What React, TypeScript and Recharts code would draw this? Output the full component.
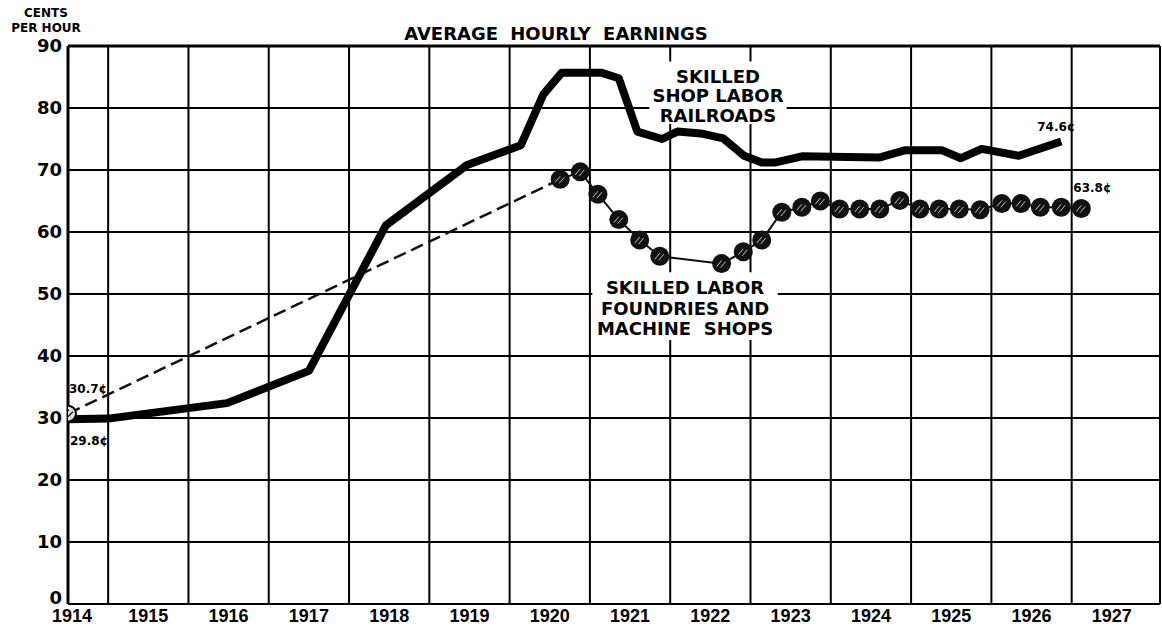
import React from 'react'
import { LineChart, Line, XAxis, YAxis, CartesianGrid, ReferenceArea, ReferenceLine, LabelList } from 'recharts'

// skilled shop labor, railroads (cents per hour)
const railroadYears = [
  1914.5, 1915.0, 1916.48, 1917.5, 1918.46, 1919.47, 1920.14, 1920.42, 1920.65, 1921.14,
  1921.36, 1921.59, 1921.9, 1922.09, 1922.38, 1922.66, 1922.92, 1923.14, 1923.3, 1923.64,
  1924.6, 1924.93, 1925.38, 1925.62, 1925.88, 1926.34, 1926.87,
]
const railroadCents = [
  29.8, 29.9, 32.4, 37.6, 61.1, 70.8, 74.0, 82.2, 85.7, 85.7,
  84.8, 76.2, 75.0, 76.2, 75.9, 75.1, 72.3, 71.2, 71.2, 72.2,
  72.0, 73.2, 73.2, 71.9, 73.4, 72.3, 74.6,
]

// skilled labor, foundries and machine shops
const foundryYears = [
  1920.63, 1920.88, 1921.1, 1921.36, 1921.62, 1921.87, 1922.64, 1922.91, 1923.14, 1923.39,
  1923.64, 1923.87, 1924.11, 1924.36, 1924.61, 1924.86, 1925.11, 1925.35, 1925.6, 1925.86,
  1926.13, 1926.37, 1926.61, 1926.87, 1927.12,
]
const foundryCents = [
  68.5, 69.7, 66.1, 62.0, 58.7, 56.1, 54.9, 56.8, 58.7, 63.2,
  64.0, 65.0, 63.7, 63.7, 63.7, 65.1, 63.7, 63.7, 63.7, 63.6,
  64.6, 64.6, 64.0, 64.0, 63.8,
]
const foundry1914 = { year: 1914.5, cents: 30.7 }

const gridYears = [1915, 1916, 1917, 1918, 1919, 1920, 1921, 1922, 1923, 1924, 1925, 1926, 1927]
const labelYears = [1914, 1915, 1916, 1917, 1918, 1919, 1920, 1921, 1922, 1923, 1924, 1925, 1926, 1927]
const labelTicks = labelYears.map((y) => (y === 1914 ? 1914.55 : y + 0.5))
const yTicks = [0, 10, 20, 30, 40, 50, 60, 70, 80, 90]
const xMin = 1914.5
const xMax = 1928.1

const railroadNote = ['SKILLED', 'SHOP LABOR', 'RAILROADS']
const foundryNote = ['SKILLED LABOR', 'FOUNDRIES AND', 'MACHINE  SHOPS']

const railroad = railroadYears.map((year, i) => ({ year, cents: railroadCents[i] }))
const foundry = foundryYears.map((year, i) => ({ year, cents: foundryCents[i] }))
const foundryBridge = [foundry1914, foundry[0]]

const heavy = '"DejaVu Sans", sans-serif'
const narrow = '"Liberation Sans", Arial, sans-serif'

const NoteLabel = (props: any) => {
  const { viewBox, lines, top, lead } = props
  if (!viewBox) return null
  const cx = viewBox.x + viewBox.width / 2
  return (
    <text x={cx} y={viewBox.y + top} textAnchor="middle" fontFamily={heavy} fontWeight={700} fontSize={18} fill="#000">
      {lines.map((l: string, i: number) => (
        <tspan key={i} x={cx} dy={i === 0 ? 0 : lead} style={{ whiteSpace: 'pre' }}>{l}</tspan>
      ))}
    </text>
  )
}

const HatchedDot = (props: any) => {
  const { cx, cy, index } = props
  return (
    <g key={`f-${index}`}>
      <circle cx={cx} cy={cy} r={9.5} fill="#111" />
      <path
        d={`M${cx - 5} ${cy + 3} L${cx} ${cy - 3} M${cx - 1} ${cy + 4} L${cx + 4} ${cy - 2}`}
        stroke="#fff"
        strokeWidth={1}
        opacity={0.75}
      />
    </g>
  )
}

const StartDot = (props: any) => {
  const { cx, cy, index } = props
  if (index !== 0) return <g key={`s-${index}`} />
  return (
    <g key={`s-${index}`}>
      <circle cx={cx} cy={cy} r={8} fill="#ddd" stroke="#000" strokeWidth={2} />
      <path d={`M${cx - 5} ${cy + 2} L${cx + 1} ${cy - 4} M${cx - 2} ${cy + 5} L${cx + 5} ${cy - 2}`} stroke="#000" strokeWidth={1.2} />
    </g>
  )
}

const smallText = (x: number, y: number, text: string, anchor: string = 'start') => (
  <text x={x} y={y} textAnchor={anchor as any} fontFamily={heavy} fontWeight={700} fontSize={12} fill="#000">
    {text}
  </text>
)

const railroadEnds = (p: any) => {
  const last = railroad.length - 1
  if (p.index === 0) return <g key="r0">{smallText(p.x + 2, p.y + 26, `${p.value}¢`)}</g>
  if (p.index === last) return <g key="rl">{smallText(p.x - 5, p.y - 10, `${p.value}¢`, 'middle')}</g>
  return null
}

const foundryEnd = (p: any) => {
  if (p.index === foundry.length - 1) return <g key="fl">{smallText(p.x - 8, p.y - 16, `${p.value}¢`)}</g>
  return null
}

const bridgeStart = (p: any) => {
  if (p.index === 0) return <g key="b0">{smallText(p.x + 1, p.y - 21, `${p.value}¢`)}</g>
  return null
}

const YTick = (props: any) => {
  const { x, y, payload } = props
  return (
    <text x={x + 2} y={y} dy={payload.value === 0 ? '0.0em' : '0.36em'} textAnchor="end" fontFamily={heavy} fontWeight={700} fontSize={18} fill="#000">
      {payload.value}
    </text>
  )
}

const XLabelTick = (props: any) => {
  const { x, y, payload } = props
  return (
    <text x={x} y={y + 18} textAnchor="middle" fontFamily={narrow} fontWeight={700} fontSize={18} fill="#000">
      {Math.floor(payload.value)}
    </text>
  )
}

const EmptyTick = () => <g />

// grid lines at year boundaries, placed through the x axis scale
const verticalGrid = (props: any) => {
  const s = props?.xAxis?.scale
  if (s && typeof s.map === 'function') return gridYears.map((y) => s.map(y))
  if (typeof s === 'function') return gridYears.map((y) => s(y))
  return []
}

export default function App() {
  return (
    <div style={{ position: 'absolute', left: 0, top: 0, width: 1162, height: 629, background: '#fff' }}>
      <LineChart width={1162} height={629} margin={{ top: 46, right: 2, bottom: 0, left: 0 }}>
        <CartesianGrid stroke="#000" strokeWidth={2} verticalCoordinatesGenerator={verticalGrid} />
        <XAxis
          dataKey="year"
          type="number"
          domain={[xMin, xMax]}
          ticks={gridYears}
          interval={0}
          allowDataOverflow
          height={0}
          tick={<EmptyTick />}
          tickLine={false}
          axisLine={{ stroke: '#000', strokeWidth: 3 }}
        />
        <XAxis
          xAxisId="labels"
          dataKey="year"
          type="number"
          domain={[xMin, xMax]}
          ticks={labelTicks}
          interval={0}
          allowDataOverflow
          height={25}
          tickSize={0}
          tickMargin={0}
          axisLine={false}
          tickLine={false}
          tick={<XLabelTick />}
        />
        <YAxis
          type="number"
          domain={[0, 90]}
          ticks={yTicks}
          interval={0}
          width={68}
          tickLine={false}
          axisLine={{ stroke: '#000', strokeWidth: 3 }}
          tick={<YTick />}
        />
        <ReferenceLine y={90} stroke="#000" strokeWidth={3} />
        <ReferenceLine x={xMax} stroke="#000" strokeWidth={2} />
        <ReferenceArea
          x1={1921.74}
          x2={1923.45}
          y1={77.4}
          y2={87.5}
          fill="#fff"
          fillOpacity={1}
          stroke="none"
          label={<NoteLabel lines={railroadNote} top={21} lead={19.5} />}
        />
        <ReferenceArea
          x1={1921.03}
          x2={1923.34}
          y1={42.6}
          y2={53.5}
          fill="#fff"
          fillOpacity={1}
          stroke="none"
          label={<NoteLabel lines={foundryNote} top={22} lead={20.5} />}
        />
        <Line
          data={foundryBridge}
          dataKey="cents"
          type="linear"
          stroke="#111"
          strokeWidth={2.5}
          strokeDasharray="13 6"
          dot={StartDot}
          activeDot={false}
          isAnimationActive={false}
        >
          <LabelList dataKey="cents" content={bridgeStart} />
        </Line>
        <Line
          data={foundry}
          dataKey="cents"
          type="linear"
          stroke="#111"
          strokeWidth={2}
          dot={HatchedDot}
          activeDot={false}
          isAnimationActive={false}
        >
          <LabelList dataKey="cents" content={foundryEnd} />
        </Line>
        <Line
          data={railroad}
          dataKey="cents"
          type="linear"
          stroke="#000"
          strokeWidth={8}
          strokeLinejoin="round"
          dot={false}
          activeDot={false}
          isAnimationActive={false}
        >
          <LabelList dataKey="cents" content={railroadEnds} />
        </Line>
      </LineChart>
      <svg width={1162} height={629} style={{ position: 'absolute', left: 0, top: 0, pointerEvents: 'none' }}>
        <text x={46} y={17} textAnchor="middle" fontFamily={heavy} fontWeight={700} fontSize={12}>CENTS</text>
        <text x={46} y={32} textAnchor="middle" fontFamily={heavy} fontWeight={700} fontSize={12}>PER HOUR</text>
        <text x={556} y={40} textAnchor="middle" fontFamily={heavy} fontWeight={700} fontSize={18} wordSpacing={6}>
          AVERAGE HOURLY EARNINGS
        </text>
      </svg>
    </div>
  )
}
